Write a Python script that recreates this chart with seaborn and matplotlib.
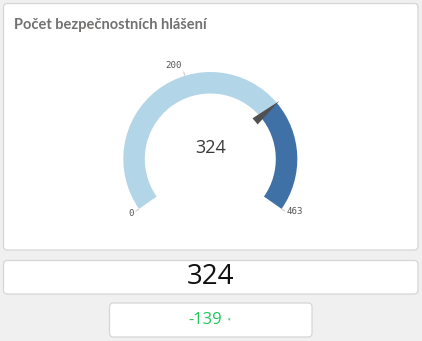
import numpy as np
import matplotlib
matplotlib.use("Agg")
import matplotlib.pyplot as plt
from matplotlib.patches import Wedge, FancyBboxPatch, Polygon
import seaborn as sns

# ---- data ----
title = "Počet bezpečnostních hlášení"
gauge_min = 0
gauge_max = 463
gauge_value = 324
gauge_ticks = [0, 200, 463]
kpi_value = 324
delta_value = -139

sns.set_style("white")
plt.rcParams['font.family'] = ['Lato', 'DejaVu Sans']

W, H = 422, 341
fig = plt.figure(figsize=(W / 100, H / 100), dpi=100, facecolor="#f0f0f0")
ax = fig.add_axes([0, 0, 1, 1])
ax.set_xlim(0, W)
ax.set_ylim(0, H)
ax.set_aspect("equal")
ax.axis("off")
ax.set_facecolor("#f0f0f0")


def panel(x0, y0, x1, y1):
    # pixel coords with y from top
    p = FancyBboxPatch((x0, H - y1), x1 - x0, y1 - y0,
                       boxstyle="round,pad=0,rounding_size=4",
                       facecolor="white", edgecolor="#d6d6d6", linewidth=0.9)
    ax.add_patch(p)


panel(3.5, 3.5, 418, 250)
panel(3.5, 260.5, 418, 294)
panel(109.5, 303, 312, 337)

ax.text(14, H - 25, title, fontsize=10.5, fontweight="bold", color="#737170",
        ha="left", va="center")

# ---- gauge ----
cx, cy = 210.3, H - 159
R, width = 87, 21.5
start_ang, sweep = 215.0, 250.0
pal = sns.color_palette(["#b3d5e8", "#3f71a7"])


def ang(v):
    return start_ang - (v - gauge_min) / (gauge_max - gauge_min) * sweep


ax.add_patch(Wedge((cx, cy), R, ang(gauge_value), ang(gauge_min), width=width,
                   facecolor=pal[0], edgecolor="none"))
ax.add_patch(Wedge((cx, cy), R, ang(gauge_max), ang(gauge_value), width=width,
                   facecolor=pal[1], edgecolor="none"))

for t in gauge_ticks:
    a = np.deg2rad(ang(t))
    x1, y1 = cx + (R + 4) * np.cos(a), cy + (R + 4) * np.sin(a)
    ax.plot([cx + (R + 0.5) * np.cos(a), x1],
            [cy + (R + 0.5) * np.sin(a), y1],
            color="#cccccc", lw=0.8)
    if np.sin(a) > 0.5:
        ha, va, dx, dy = "right", "bottom", -1.5, 1.5
    elif np.cos(a) < 0:
        ha, va, dx, dy = "right", "center", -1.5, -2
    else:
        ha, va, dx, dy = "left", "center", 2, 0
    ax.text(x1 + dx, y1 + dy, f"{t}",
            fontsize=6.6, family="DejaVu Sans Mono", color="#555555",
            ha=ha, va=va)

# needle
a = np.deg2rad(ang(gauge_value))
u = np.array([np.cos(a), np.sin(a)])
n = np.array([-np.sin(a), np.cos(a)])
c = np.array([cx, cy])
base = c + 58.5 * u
tip = c + 90 * u
needle = Polygon([base + 4 * n, base - 4 * n, tip], closed=True,
                 facecolor="#505050", edgecolor="none")
ax.add_patch(needle)

ax.text(cx, H - 148, f"{gauge_value}", fontsize=13, color="#3a3a3a",
        ha="center", va="center", family="Open Sans")

# ---- KPI ----
ax.text(211, H - 277.5, f"{kpi_value}", fontsize=20, color="#111111",
        ha="center", va="center", family="Open Sans")
ax.text(205, H - 320, f"{delta_value}", fontsize=12, color="#21c65a",
        ha="center", va="center", family="Open Sans")
ax.text(229.5, H - 320, "▾", fontsize=3.5, color="#21c65a",
        ha="center", va="center", family="DejaVu Sans")

fig.savefig("out.png", dpi=100, facecolor=fig.get_facecolor())
